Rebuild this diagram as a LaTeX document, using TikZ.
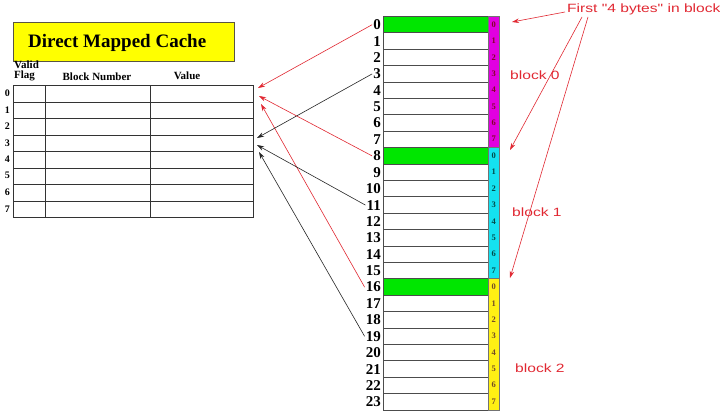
\documentclass[tikz,border=0pt]{standalone}
\usepackage{fontspec}
\usepackage{graphicx}
\setmainfont{Liberation Serif}
\newfontfamily\sansf{Liberation Sans}
\usetikzlibrary{arrows.meta,calc}
\definecolor{myred}{RGB}{225,40,50}
\definecolor{mygreen}{RGB}{0,230,0}
\definecolor{mymag}{RGB}{225,0,225}
\definecolor{mycyan}{RGB}{20,225,240}
\definecolor{myyel}{RGB}{255,240,20}
\definecolor{titleyel}{RGB}{255,255,0}
\tikzset{
  memrow/.style={draw=black!70,line width=0.9pt,minimum width=105pt,minimum height=16.4pt,inner sep=0pt,anchor=north west},
  stripcell/.style={inner sep=0pt,minimum width=11pt,minimum height=16.4pt,anchor=north west,font=\fontsize{8.5}{8.5}\selectfont\bfseries},
  memlab/.style={anchor=east,inner sep=0pt,font=\fontsize{15}{15}\selectfont\bfseries},
  cachelab/.style={anchor=east,inner sep=0pt,font=\fontsize{10}{10}\selectfont\bfseries},
  redtxt/.style={text=myred,inner sep=0pt,font=\fontsize{12}{12}\sansf},
  redarr/.style={draw=myred,line width=0.6pt,-{Stealth[length=7pt,width=4.5pt]}},
  blkarr/.style={draw=black!85,line width=0.6pt,-{Stealth[length=7pt,width=4.5pt]}},
  hdr/.style={inner sep=0pt,font=\fontsize{11}{8.6}\selectfont\bfseries}
}
\begin{document}
\begin{tikzpicture}[x=1pt,y=-1pt]
\useasboundingbox (0,0) rectangle (720,410);
\fill[white] (0,0) rectangle (720,410);
% title
\node[draw=black!75!yellow,line width=1pt,fill=titleyel,minimum width=221pt,minimum height=39pt,anchor=north west,inner sep=0pt] (title) at (13,22) {};
\node[anchor=west,inner sep=0pt,font=\fontsize{19}{19}\selectfont\bfseries] (titletxt) at (28,43) {Direct Mapped Cache};
% headers
\node[hdr,align=left,anchor=north west] (hvalid) at (14,61) {Valid\\[1pt]Flag};
\node[hdr] (hblock) at (97,77) {Block Number};
\node[hdr] (hvalue) at (187,76) {Value};
% cache table
\foreach \i in {0,...,7}{
  \node[draw=black!80,line width=0.8pt,minimum width=32pt,minimum height=16.5pt,inner sep=0pt,anchor=north west] (cv\i) at (13,{85+16.5*\i}) {};
  \node[draw=black!80,line width=0.8pt,minimum width=105pt,minimum height=16.5pt,inner sep=0pt,anchor=north west] (cb\i) at (45,{85+16.5*\i}) {};
  \node[draw=black!80,line width=0.8pt,minimum width=103pt,minimum height=16.5pt,inner sep=0pt,anchor=north west] (cx\i) at (150,{85+16.5*\i}) {};
  \node[cachelab] (ci\i) at (10,{85+16.5*\i+8.25}) {\i};
}
% memory
\foreach \i in {0,...,23}{
  \pgfmathtruncatemacro{\b}{mod(\i,8)}
  \ifnum\b=0
    \node[memrow,fill=mygreen] (m\i) at (383,{16+16.4*\i}) {};
  \else
    \node[memrow,fill=white] (m\i) at (383,{16+16.4*\i}) {};
  \fi
  \node[memlab] (l\i) at (381,{16+16.4*\i+8.7}) {\i};
}
\foreach \i in {0,...,7}{
  \node[stripcell,fill=mymag,text=purple!70!black] (sa\i) at (488,{16+16.4*\i}) {\i};
  \node[stripcell,fill=mycyan,text=teal!60!black] (sb\i) at (488,{16+16.4*(\i+8)}) {\i};
  \node[stripcell,fill=myyel,text=brown!60!black] (sc\i) at (488,{16+16.4*(\i+16)}) {\i};
}
\draw[black!55,line width=0.8pt] (sa0.north west) rectangle (sc7.south east);
\draw[black!55,line width=0.8pt] (sa7.south west) -- (sa7.south east) (sb7.south west) -- (sb7.south east);
% block labels
\node[redtxt,anchor=west] (bl0) at (510,75) {\scalebox{1.3}[1]{block 0}};
\node[redtxt,anchor=west] (bl1) at (512,212) {\scalebox{1.3}[1]{block 1}};
\node[redtxt,anchor=west] (bl2) at (515,368) {\scalebox{1.3}[1]{block 2}};
\node[redtxt,anchor=west] (first) at (567,9) {\scalebox{1.3}[1]{First "4 bytes" in block}};
% arrow targets
\coordinate (t0) at (258,88);
\coordinate (t8) at (259,96);
\coordinate (t16) at (261,104);
\coordinate (t3) at (257,138);
\coordinate (t11) at (257,145);
\coordinate (t19) at (259,152);
\coordinate (f0) at (512,22);
\coordinate (f8) at (510,150);
\coordinate (f16) at (510,278);
\coordinate (s0) at (565,12);
\coordinate (s8) at (582,17);
\coordinate (s16) at (588,17);
% arrows
\draw[redarr] ([xshift=-1pt]l0.west) -- (t0);
\draw[redarr] ([xshift=-1pt]l8.west) -- (t8);
\draw[redarr] ([xshift=-1pt]l16.west) -- (t16);
\draw[blkarr] ([xshift=-1pt]l3.west) -- (t3);
\draw[blkarr] ([xshift=-1pt]l11.west) -- (t11);
\draw[blkarr] ([xshift=-1pt]l19.west) -- (t19);
\draw[redarr] (s0) -- (f0);
\draw[redarr] (s8) -- (f8);
\draw[redarr] (s16) -- (f16);
\end{tikzpicture}
\end{document}
